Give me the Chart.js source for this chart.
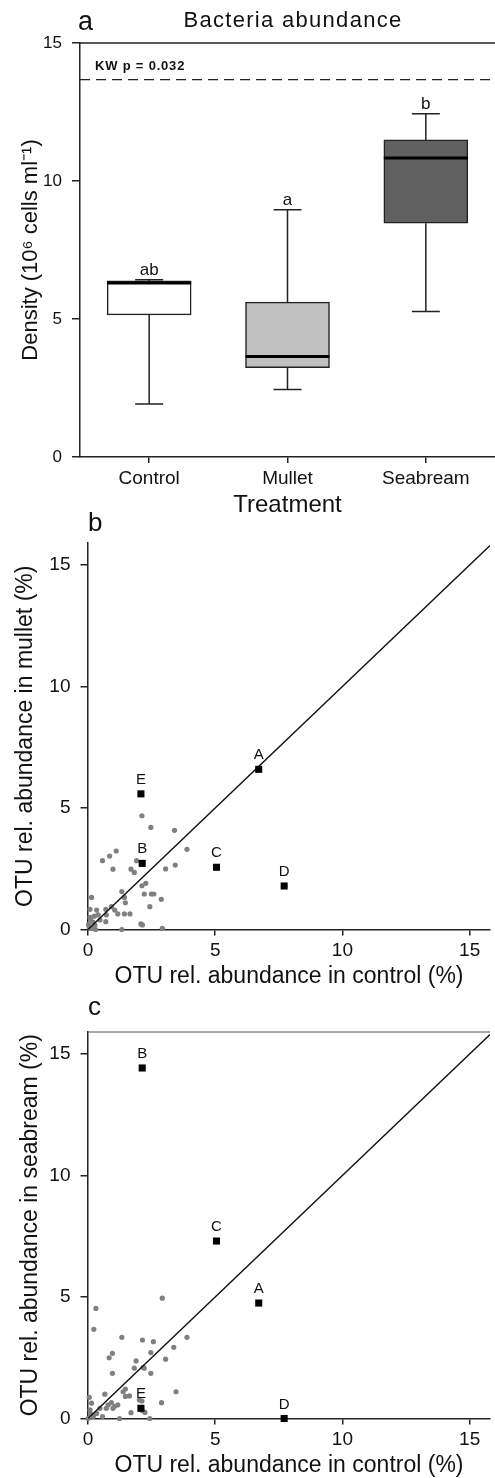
<!DOCTYPE html>
<html>
<head>
<meta charset="utf-8">
<script src="https://cdn.jsdelivr.net/npm/chart.js@4.4.0/dist/chart.umd.min.js"></script>
<style>
  html, body { margin: 0; padding: 0; background: #fff; overflow: hidden; }
  #wrap { position: relative; width: 495px; height: 1478px; }
  canvas { position: absolute; left: 0; display: block; }
</style>
</head>
<body>
<div id="wrap">
  <canvas id="chartA" width="495" height="525" style="top:0"></canvas>
  <canvas id="chartB" width="495" height="505" style="top:495px"></canvas>
  <canvas id="chartC" width="495" height="478" style="top:1000px"></canvas>
</div>
<script>
// panel a - bacteria density boxplots
const treatments = ["Control", "Mullet", "Seabream"];
const boxMin = [1.92, 2.45, 5.27];
const boxQ1 = [5.15, 3.24, 8.47];
const boxMedian = [6.30, 3.64, 10.83];
const boxQ3 = [6.38, 5.61, 11.49];
const boxMax = [6.42, 8.96, 12.44];
const boxLetters = ["ab", "a", "b"];
const boxColors = ["#ffffff", "#c0c0c0", "#606060"];
const kwLine = 13.67;
const densityTicks = [0, 5, 10, 15];

// panels b and c - OTU relative abundance (%)
const otuTicks = [0, 5, 10, 15];
const otuLabels = ["A", "B", "C", "D", "E"];
const otuControl = [6.71, 2.13, 5.05, 7.71, 2.08];
const otuMullet = [6.59, 2.72, 2.56, 1.79, 5.58];
const otuSeabream = [4.75, 14.42, 7.30, 0.0, 0.42];
const diagonal = [0, 15.8];

const mulletGrey = [
  [2.12, 4.68], [2.47, 4.20], [3.40, 4.08], [1.11, 3.23], [0.85, 3.02], [0.57, 2.83],
  [1.91, 2.83], [3.89, 3.30], [3.43, 2.65], [3.05, 2.49], [0.98, 2.48], [1.69, 2.48],
  [1.82, 2.35], [2.27, 1.90], [2.12, 1.80], [1.33, 1.56], [2.21, 1.46], [2.49, 1.46],
  [2.59, 1.46], [1.43, 1.32], [2.88, 1.24], [1.47, 1.10], [2.43, 0.94], [0.14, 1.32],
  [0.08, 0.83], [0.34, 0.80], [0.70, 0.83], [0.92, 0.94], [1.05, 0.80], [1.17, 0.64],
  [1.43, 0.64], [1.65, 0.64], [0.72, 0.60], [0.47, 0.39], [0.70, 0.32], [2.14, 0.19],
  [1.33, 0.00], [2.92, 0.05], [0.27, 0.19], [0.08, 0.50], [0.05, 0.10], [0.15, 0.05],
  [0.20, 0.30], [0.10, 0.40], [0.30, 0.00], [0.02, 0.20], [0.25, 0.55], [0.40, 0.60],
  [2.08, 0.23]
];
const seabreamGrey = [
  [0.31, 4.53], [0.23, 3.67], [2.92, 4.95], [1.33, 3.34], [2.14, 3.23], [2.57, 3.16],
  [3.89, 3.34], [3.37, 2.93], [2.47, 2.71], [0.96, 2.68], [0.83, 2.50], [3.05, 2.44],
  [1.89, 2.37], [1.82, 2.07], [2.21, 2.07], [0.96, 1.86], [2.47, 1.86], [1.47, 1.21],
  [1.38, 1.10], [1.63, 0.93], [1.47, 0.91], [3.46, 1.10], [2.12, 0.72], [0.66, 1.00],
  [0.05, 0.87], [2.89, 0.65], [1.17, 0.56], [0.92, 0.65], [0.47, 0.42], [0.72, 0.42],
  [2.14, 0.32], [2.24, 0.25], [1.69, 0.24], [0.14, 0.63], [0.08, 0.36], [0.34, 0.21],
  [0.21, 0.08], [1.24, 0.00], [2.43, 0.00], [0.57, 0.08], [0.00, 0.00], [0.10, 0.20],
  [1.05, 0.50], [0.98, 0.42], [0.79, 0.56], [2.02, 0.76], [2.17, 2.10]
];

const FONT = "'Liberation Sans', Arial, Helvetica, sans-serif";
Chart.defaults.font.family = FONT;
Chart.defaults.color = "#111";
const AXIS = "#222";

function fixedTicks(values) {
  return scale => { scale.ticks = values.map(v => ({ value: v })); };
}

function drawText(ctx, text, x, y, font, align, spacing) {
  ctx.save();
  ctx.font = font;
  ctx.fillStyle = "#111";
  ctx.textAlign = align || "left";
  ctx.textBaseline = "alphabetic";
  if (spacing) ctx.letterSpacing = spacing;
  ctx.fillText(text, x, y);
  ctx.restore();
}

// whiskers, medians, letters and frame of panel a
const boxPlugin = {
  id: "boxExtras",
  afterDatasetsDraw(chart) {
    const { ctx, chartArea, scales: { x, y } } = chart;
    ctx.save();
    treatments.forEach((t, i) => {
      const cx = x.getPixelForValue(i);
      ctx.strokeStyle = AXIS;
      ctx.lineWidth = 1.5;
      ctx.beginPath();
      ctx.moveTo(cx, y.getPixelForValue(boxQ3[i]));
      ctx.lineTo(cx, y.getPixelForValue(boxMax[i]));
      ctx.moveTo(cx - 14, y.getPixelForValue(boxMax[i]));
      ctx.lineTo(cx + 14, y.getPixelForValue(boxMax[i]));
      ctx.moveTo(cx, y.getPixelForValue(boxQ1[i]));
      ctx.lineTo(cx, y.getPixelForValue(boxMin[i]));
      ctx.moveTo(cx - 14, y.getPixelForValue(boxMin[i]));
      ctx.lineTo(cx + 14, y.getPixelForValue(boxMin[i]));
      ctx.stroke();

      ctx.strokeStyle = "#000";
      ctx.lineWidth = 3;
      ctx.beginPath();
      ctx.moveTo(cx - 42, y.getPixelForValue(boxMedian[i]));
      ctx.lineTo(cx + 42, y.getPixelForValue(boxMedian[i]));
      ctx.stroke();

      drawText(ctx, boxLetters[i], cx, y.getPixelForValue(boxMax[i]) - 5, "17px " + FONT, "center");
    });

    // top frame
    ctx.strokeStyle = AXIS;
    ctx.lineWidth = 1.5;
    ctx.beginPath();
    ctx.moveTo(chartArea.left, chartArea.top);
    ctx.lineTo(chartArea.right, chartArea.top);
    ctx.stroke();

    // Kruskal-Wallis line
    const ky = y.getPixelForValue(kwLine);
    ctx.lineWidth = 1.2;
    ctx.setLineDash([10, 6]);
    ctx.beginPath();
    ctx.moveTo(chartArea.left, ky);
    ctx.lineTo(chartArea.right, ky);
    ctx.stroke();
    ctx.restore();

    drawText(ctx, "KW p = 0.032", 95, 70, "bold 13px " + FONT, "left", "0.8px");
    drawText(ctx, "a", 78, 30, "27px " + FONT, "left");
    drawText(ctx, "Bacteria abundance", 293, 27, "22px " + FONT, "center", "1.3px");
  }
};

new Chart(document.getElementById("chartA"), {
  type: "bar",
  data: {
    labels: treatments,
    datasets: [{
      data: treatments.map((t, i) => [boxQ1[i], boxQ3[i]]),
      backgroundColor: boxColors,
      borderColor: AXIS,
      borderWidth: 1.5,
      borderSkipped: false,
      barThickness: 84
    }]
  },
  options: {
    responsive: false,
    animation: false,
    layout: { padding: { top: 43, right: 0, bottom: 0, left: 0 } },
    plugins: { legend: { display: false }, tooltip: { enabled: false } },
    scales: {
      x: {
        offset: true,
        grid: { drawOnChartArea: false, tickLength: 6, offset: false, color: AXIS, lineWidth: 1.5 },
        border: { color: AXIS, width: 1.5 },
        ticks: { font: { size: 19 }, padding: 4, color: "#111" },
        title: { display: true, text: "Treatment", font: { size: 24, lineHeight: 1 }, padding: { top: 0, bottom: 8 }, color: "#111" },
        afterFit: s => { s.height = 68; }
      },
      y: {
        min: 0,
        max: 15,
        afterBuildTicks: fixedTicks(densityTicks),
        grid: { drawOnChartArea: false, tickLength: 8, color: AXIS, lineWidth: 1.5 },
        border: { color: AXIS, width: 1.5 },
        ticks: { font: { size: 17 }, padding: 10, color: "#111" },
        title: { display: true, text: "Density (10\u2076 cells ml\u207B\u00B9)", font: { size: 22, lineHeight: 1 }, padding: { top: 20, bottom: 0 }, color: "#111" },
        afterFit: s => { s.width = 80; }
      }
    }
  },
  plugins: [boxPlugin]
});

function scatterPanel(id, yValues, grey, yTitle, panelLetter, letterY, titleLeft, topPad, axisHeight, titleBottom, topFrame) {
  const labelPlugin = {
    id: "otuLabels" + id,
    afterDatasetsDraw(chart) {
      const { ctx, chartArea, scales: { x, y } } = chart;
      otuLabels.forEach((lab, i) => {
        drawText(ctx, lab, x.getPixelForValue(otuControl[i]), y.getPixelForValue(yValues[i]) - 10, "15px " + FONT, "center");
      });
      if (topFrame) {
        ctx.save();
        ctx.strokeStyle = "#555";
        ctx.lineWidth = 1;
        ctx.beginPath();
        ctx.moveTo(chartArea.left, chartArea.top);
        ctx.lineTo(chartArea.right, chartArea.top);
        ctx.stroke();
        ctx.restore();
      }
      drawText(ctx, panelLetter, 88, letterY, "26px " + FONT, "left");
    }
  };

  new Chart(document.getElementById(id), {
    type: "scatter",
    data: {
      datasets: [
        {
          data: otuLabels.map((l, i) => ({ x: otuControl[i], y: yValues[i] })),
          pointStyle: "rect",
          pointRadius: 5,
          backgroundColor: "#000",
          borderWidth: 0,
          clip: false
        },
        {
          type: "line",
          data: diagonal.map(v => ({ x: v, y: v })),
          borderColor: "#111",
          borderWidth: 1.4,
          pointRadius: 0
        },
        {
          data: grey.map(p => ({ x: p[0], y: p[1] })),
          pointRadius: 2.6,
          backgroundColor: "#808080",
          borderWidth: 0,
          clip: false
        }
      ]
    },
    options: {
      responsive: false,
      animation: false,
      layout: { padding: { top: topPad, right: 0, bottom: 0, left: 0 } },
      plugins: { legend: { display: false }, tooltip: { enabled: false } },
      scales: {
        x: {
          type: "linear",
          min: 0,
          max: 15.8,
          afterBuildTicks: fixedTicks(otuTicks),
          grid: { drawOnChartArea: false, tickLength: 6, color: AXIS, lineWidth: 1.5 },
          border: { color: AXIS, width: 1.5 },
          ticks: { font: { size: 19 }, padding: 4, color: "#111" },
          title: { display: true, text: "OTU rel. abundance in control (%)", font: { size: 23, lineHeight: 1 }, padding: { top: 0, bottom: titleBottom }, color: "#111" },
          afterFit: s => { s.height = axisHeight; }
        },
        y: {
          min: 0,
          max: 15.9,
          afterBuildTicks: fixedTicks(otuTicks),
          grid: { drawOnChartArea: false, tickLength: 7.5, color: AXIS, lineWidth: 1.5 },
          border: { color: AXIS, width: 1.5 },
          ticks: { font: { size: 19 }, padding: 10, color: "#111" },
          title: { display: true, text: yTitle, font: { size: 23, lineHeight: 1 }, padding: { top: titleLeft, bottom: 0 }, color: "#111" },
          afterFit: s => { s.width = 88; }
        }
      }
    },
    plugins: [labelPlugin]
  });
}

scatterPanel("chartB", otuMullet, mulletGrey, "OTU rel. abundance in mullet (%)", "b", 36, 14.5, 48, 70.5, 11.5, false);
scatterPanel("chartC", otuSeabream, seabreamGrey, "OTU rel. abundance in seabream (%)", "c", 15, 19, 32, 59.5, 0.5, true);
</script>
</body>
</html>
